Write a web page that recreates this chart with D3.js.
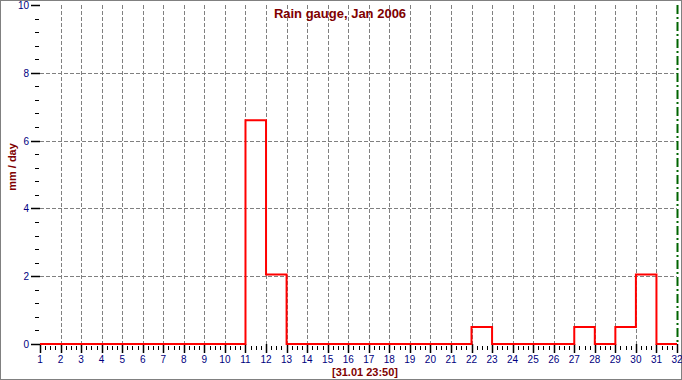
<!DOCTYPE html>
<html>
<head>
<meta charset="utf-8">
<script src="https://cdn.jsdelivr.net/npm/d3@7"></script>
<style>
  body { margin: 0; background: #fff; }
  svg { display: block; }
  text { font-family: "Liberation Sans", Arial, sans-serif; }
</style>
</head>
<body>
<svg id="chart"></svg>
<script>
// data: daily rain, day index 1..31 (step from day to day+1)
const days = d3.range(1, 32);
const rain = [0, 0, 0, 0, 0, 0, 0, 0, 0, 0,
              6.6, 2.05, 0, 0, 0, 0, 0, 0, 0, 0,
              0, 0.5, 0, 0, 0, 0, 0.5, 0, 0.5, 2.05, 0];
const xTicks = d3.range(1, 33);
const yTicks = [0, 2, 4, 6, 8, 10];

const width = 682;
const height = 380;

const svg = d3.select("#chart").attr("width", width).attr("height", height);

const x = d3.scaleLinear().domain([1, 32]).range([40, 677]);
const y = d3.scaleLinear().domain([0, 10]).range([344, 5]);

// frame
svg.append("rect")
    .attr("x", 0.5).attr("y", 0.5)
    .attr("width", width - 1).attr("height", height - 1)
    .attr("fill", "#fff").attr("stroke", "#808080");

// grid
const grid = svg.append("g").attr("stroke", "#808080").attr("stroke-dasharray", "4,2");
grid.selectAll("line.v")
    .data(xTicks.filter(d => d > 1 && d < 32))
    .enter().append("line")
    .attr("x1", d => Math.round(x(d)) + 0.5).attr("x2", d => Math.round(x(d)) + 0.5)
    .attr("y1", y(10)).attr("y2", y(0));
grid.selectAll("line.h")
    .data(yTicks.filter(d => d > 0 && d < 10))
    .enter().append("line")
    .attr("x1", x(1)).attr("x2", x(32))
    .attr("y1", d => Math.round(y(d)) + 0.5).attr("y2", d => Math.round(y(d)) + 0.5);

// end-of-period marker
svg.append("line")
    .attr("x1", Math.round(x(32)) + 0.5).attr("x2", Math.round(x(32)) + 0.5)
    .attr("y1", y(10)).attr("y2", y(0))
    .attr("stroke", "#006400").attr("stroke-width", 2)
    .attr("stroke-dasharray", "9,3,2,3");

// y axis ticks
const yAxis = svg.append("g");
const yMinor = d3.range(0, 10.01, 0.4).filter(d => Math.abs(d % 2) > 0.01 && Math.abs(d % 2 - 2) > 0.01);
yAxis.selectAll("line.minor").data(yMinor).enter().append("line")
    .attr("x1", 35).attr("x2", 39)
    .attr("y1", d => Math.round(y(d)) + 0.5).attr("y2", d => Math.round(y(d)) + 0.5)
    .attr("stroke", "#000");
yAxis.selectAll("line.major").data(yTicks).enter().append("line")
    .attr("x1", 31).attr("x2", 40)
    .attr("y1", d => Math.round(y(d)) + 0.5).attr("y2", d => Math.round(y(d)) + 0.5)
    .attr("stroke", "#000").attr("stroke-width", 1.5);
yAxis.selectAll("text").data(yTicks).enter().append("text")
    .attr("x", 29).attr("y", d => y(d) + 4)
    .attr("text-anchor", "end")
    .attr("font-size", 10).attr("fill", "#000080")
    .text(d => d);

// x axis ticks
const xAxis = svg.append("g");
const xMinor = d3.range(1, 32).flatMap(d => [d + 0.25, d + 0.5, d + 0.75]);
xAxis.selectAll("line.minor").data(xMinor).enter().append("line")
    .attr("x1", d => Math.round(x(d)) + 0.5).attr("x2", d => Math.round(x(d)) + 0.5)
    .attr("y1", 346).attr("y2", 350)
    .attr("stroke", "#000");
xAxis.selectAll("line.major").data(xTicks).enter().append("line")
    .attr("x1", d => Math.round(x(d)) + 0.5).attr("x2", d => Math.round(x(d)) + 0.5)
    .attr("y1", 344).attr("y2", 353)
    .attr("stroke", "#000").attr("stroke-width", 1.5);
xAxis.selectAll("text").data(xTicks).enter().append("text")
    .attr("x", d => x(d)).attr("y", 363)
    .attr("text-anchor", "middle")
    .attr("font-size", 10).attr("fill", "#000080")
    .text(d => d);

// rain step line
const pts = [];
days.forEach((d, i) => {
    pts.push([d, rain[i]]);
    pts.push([d + 1, rain[i]]);
});
const line = d3.line().x(d => x(d[0])).y(d => y(d[1]));
svg.append("path")
    .datum(pts)
    .attr("d", line)
    .attr("fill", "none")
    .attr("stroke", "#ff0000")
    .attr("stroke-width", 2);

// titles
svg.append("text")
    .attr("x", 340).attr("y", 18)
    .attr("text-anchor", "middle")
    .attr("font-size", 13).attr("font-weight", "bold").attr("fill", "#800000")
    .text("Rain gauge, Jan 2006");

svg.append("text")
    .attr("transform", "translate(16,167) rotate(-90)")
    .attr("text-anchor", "middle")
    .attr("font-size", 11).attr("font-weight", "bold").attr("fill", "#800000")
    .text("mm / day");

svg.append("text")
    .attr("x", 365).attr("y", 376)
    .attr("text-anchor", "middle")
    .attr("font-size", 11).attr("font-weight", "bold").attr("fill", "#800000")
    .text("[31.01 23:50]");
</script>
</body>
</html>
